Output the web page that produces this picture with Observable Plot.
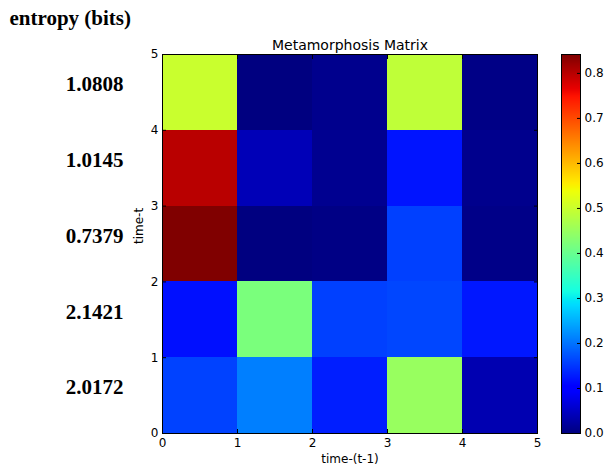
<!DOCTYPE html>
<html>
<head>
<meta charset="utf-8">
<script src="https://cdn.jsdelivr.net/npm/d3@7"></script>
<script src="https://cdn.jsdelivr.net/npm/@observablehq/plot@0.6"></script>
<style>
  body { margin: 0; background: #fff; }
  #wrap { position: relative; width: 606px; height: 470px; }
  #wrap svg { position: absolute; left: 0; top: 0; overflow: visible; }
</style>
</head>
<body>
<div id="wrap"></div>
<script>
// ---- data ----
const xTicks = [0, 1, 2, 3, 4, 5];
const yTicks = [0, 1, 2, 3, 4, 5];
const colorTicks = [0, 0.1, 0.2, 0.3, 0.4, 0.5, 0.6, 0.7, 0.8];
const vmax = 0.842;
// rows indexed by time-t (bottom = 0), columns by time-(t-1)
const row0 = [0.16, 0.21, 0.13, 0.45, 0.036];
const row1 = [0.118, 0.42, 0.158, 0.163, 0.124];
const row2 = [0.842, 0.0, 0.004, 0.158, 0.006];
const row3 = [0.80, 0.04, 0.012, 0.122, 0.01];
const row4 = [0.50, 0.0, 0.01, 0.49, 0.005];
const entropies = ["2.0172", "2.1421", "0.7379", "1.0145", "1.0808"];

const rows = [row0, row1, row2, row3, row4];
const cells = [];
rows.forEach((r, i) => r.forEach((v, j) => cells.push({col: j, row: i, value: v})));
const entropyData = entropies.map((e, i) => ({row: i, label: e}));

// matplotlib jet colormap
function seg(pts, t) {
  for (let k = 1; k < pts.length; k++) {
    if (t <= pts[k][0]) {
      const [t0, v0] = pts[k - 1], [t1, v1] = pts[k];
      return v0 + (v1 - v0) * (t - t0) / (t1 - t0);
    }
  }
  return pts[pts.length - 1][1];
}
const R = [[0, 0], [0.35, 0], [0.66, 1], [0.89, 1], [1, 0.5]];
const G = [[0, 0], [0.125, 0], [0.375, 1], [0.64, 1], [0.91, 0], [1, 0]];
const B = [[0, 0.5], [0.11, 1], [0.34, 1], [0.65, 0], [1, 0]];
function jet(t) {
  t = Math.max(0, Math.min(1, t));
  const c = x => Math.round(255 * Math.max(0, Math.min(1, x)));
  return `rgb(${c(seg(R, t))},${c(seg(G, t))},${c(seg(B, t))})`;
}
const colorScale = {type: "linear", domain: [0, vmax], interpolate: jet};

const font = "'DejaVu Sans', sans-serif";
const serif = "'Liberation Serif', 'Times New Roman', serif";

const main = Plot.plot({
  width: 606, height: 470,
  marginLeft: 162, marginRight: 69, marginTop: 54, marginBottom: 37,
  style: {fontFamily: font, fontSize: "12px", color: "#000", background: "transparent"},
  x: {domain: [0, 5]},
  y: {domain: [0, 5]},
  color: colorScale,
  marks: [
    Plot.rect(cells, {x1: "col", x2: d => d.col + 1, y1: "row", y2: d => d.row + 1, fill: "value", inset: 0, shapeRendering: "crispEdges"}),
    Plot.frame({stroke: "#000", strokeWidth: 1}),
    Plot.axisX({anchor: "bottom", ticks: xTicks, tickSize: -4, tickPadding: 9, label: null, tickFormat: d3.format("d"), fontSize: 12}),
    Plot.axisX({anchor: "top", ticks: xTicks, tickSize: -4, label: null, tickFormat: () => ""}),
    Plot.axisY({anchor: "left", ticks: yTicks, tickSize: -4, tickPadding: 8, label: null, tickFormat: d3.format("d"), fontSize: 12}),
    Plot.axisY({anchor: "right", ticks: yTicks, tickSize: -4, label: null, tickFormat: () => ""}),
    Plot.text(["Metamorphosis Matrix"], {frameAnchor: "top", dy: -5, lineAnchor: "bottom", fontSize: 14, fill: "#000"}),
    Plot.text(["time-(t-1)"], {frameAnchor: "bottom", dy: 29, fontSize: 12, fill: "#000"}),
    Plot.text(["time-t"], {frameAnchor: "left", dx: -23, rotate: -90, fontSize: 12, fill: "#000"}),
    Plot.text(["entropy (bits)"], {frameAnchor: "top-left", dx: -153, dy: -30, textAnchor: "start", lineAnchor: "bottom", fontFamily: serif, fontWeight: "bold", fontSize: 21, fill: "#000"}),
    Plot.text(entropyData, {y: d => d.row + 0.5, text: "label", frameAnchor: "left", dx: -39, dy: -8, textAnchor: "end", fontFamily: serif, fontWeight: "bold", fontSize: 21, fill: "#000"})
  ]
});

const bar = Plot.plot({
  width: 606, height: 470,
  marginLeft: 561, marginRight: 26, marginTop: 54, marginBottom: 37,
  style: {fontFamily: font, fontSize: "12px", color: "#000", background: "transparent"},
  x: {domain: [0, 1], axis: null},
  y: {domain: [0, vmax]},
  color: colorScale,
  marks: [
    Plot.raster({x1: 0, x2: 1, y1: 0, y2: vmax, fill: (x, y) => y, pixelSize: 1}),
    Plot.frame({stroke: "#000", strokeWidth: 1}),
    Plot.axisY({anchor: "right", ticks: colorTicks, tickSize: -4, tickPadding: 8, label: null, tickFormat: d3.format(".1f"), fontSize: 12})
  ]
});

const wrap = document.getElementById("wrap");
wrap.appendChild(main);
wrap.appendChild(bar);
</script>
</body>
</html>
